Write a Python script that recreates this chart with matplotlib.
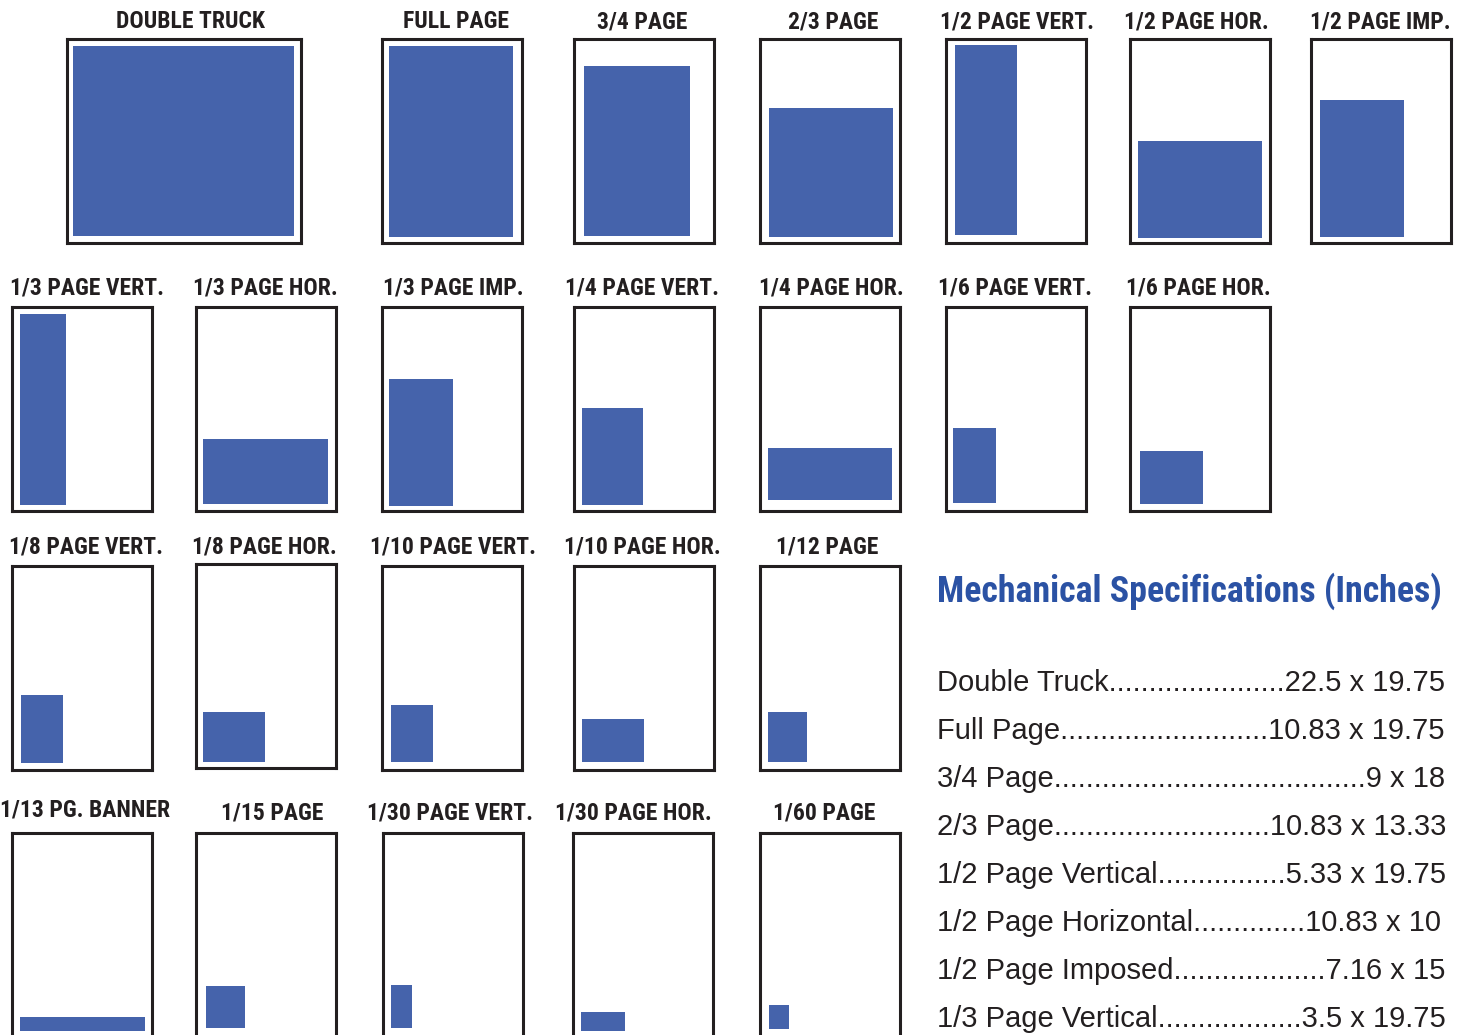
import matplotlib
matplotlib.use("Agg")
import matplotlib.pyplot as plt
from matplotlib import font_manager

labels = ["DOUBLE TRUCK", "FULL PAGE", "3/4 PAGE", "2/3 PAGE", "1/2 PAGE VERT.",
          "1/2 PAGE HOR.", "1/2 PAGE IMP.",
          "1/3 PAGE VERT.", "1/3 PAGE HOR.", "1/3 PAGE IMP.", "1/4 PAGE VERT.",
          "1/4 PAGE HOR.", "1/6 PAGE VERT.", "1/6 PAGE HOR.",
          "1/8 PAGE VERT.", "1/8 PAGE HOR.", "1/10 PAGE VERT.", "1/10 PAGE HOR.", "1/12 PAGE",
          "1/13 PG. BANNER", "1/15 PAGE", "1/30 PAGE VERT.", "1/30 PAGE HOR.", "1/60 PAGE"]
ad_left = [.026, .05, .071, .064, .064, .057, .064,
           .057, .05, .05, .057, .057, .05, .071,
           .064, .05, .064, .057, .057,
           .057, .071, .057, .057, .064]
ad_bottom = [.034, .029, .034, .029, .039, .025, .029,
             .029, .034, .025, .029, .054, .039, .034,
             .034, .029, .039, .039, .039,
             .029, .044, .044, .029, .039]
ad_w = [.944, .886, .757, .886, .443, .886, .60,
        .329, .893, .457, .436, .886, .307, .45,
        .30, .443, .30, .443, .279,
        .893, .279, .15, .314, .143]
ad_h = [.931, .936, .833, .632, .931, .475, .672,
        .936, .319, .623, .475, .255, .368, .26,
        .333, .245, .279, .211, .245,
        .069, .206, .211, .093, .118]

spec_names = ["Double Truck", "Full Page", "3/4 Page", "2/3 Page", "1/2 Page Vertical",
              "1/2 Page Horizontal", "1/2 Page Imposed", "1/3 Page Vertical"]
spec_sizes = ["22.5 x 19.75", "10.83 x 19.75", "9 x 18", "10.83 x 13.33", "5.33 x 19.75",
              "10.83 x 10", "7.16 x 15", "3.5 x 19.75"]
spec_dots = [22, 26, 39, 27, 16, 14, 19, 18]

# layout in pixels (frame left, frame top, frame width, label x, label y)
frame_x = [67, 382, 574, 760, 946, 1130, 1311,
           12, 196, 382, 574, 760, 946, 1130,
           12, 196, 382, 574, 760,
           12, 196, 383, 573, 760]
frame_y = [39] * 7 + [307] * 7 + [566, 564, 566, 566, 566] + [833] * 5
frame_w = [234] + [140] * 23
label_x = [191, 456, 642, 833, 1017, 1196, 1380,
           87, 265, 453, 642, 831, 1015, 1198,
           86, 264, 453, 642, 827,
           85, 272, 450, 633, 824]
label_y = [22] * 7 + [288] * 7 + [547] * 5 + [810, 813, 813, 813, 813]

W, H = 1458, 1035
FH = 204
blue = "#4563AB"
dark = "#231F20"


def wt(f):
    w = f.weight
    if isinstance(w, str):
        w = font_manager.weight_dict.get(w, 400)
    return w


# look for a narrow bold face, the labels use a condensed type
prefer = ["Liberation Sans Narrow", "Roboto Condensed", "Noto Sans", "Roboto",
          "Open Sans", "Lato", "Inter", "DejaVu Sans"]
cands = [f for f in font_manager.fontManager.ttflist
         if f.stretch in ("condensed", "semi-condensed", "extra-condensed")
         and 600 <= wt(f) <= 800 and f.style == "normal"]
cands.sort(key=lambda f: (prefer.index(f.name) if f.name in prefer else 99,
                          abs(wt(f) - 700)))
if cands:
    narrow = dict(fontproperties=font_manager.FontProperties(fname=cands[0].fname))
else:
    narrow = dict(family="Liberation Sans", weight="bold")

fig = plt.figure(figsize=(W / 100, H / 100), dpi=100)
rend = fig.canvas.get_renderer()

# size the label type so DOUBLE TRUCK is about as wide as in the picture
probe = fig.text(0, 0, labels[0], **narrow)
probe.set_fontsize(17)
lab_size = 0.95 * 17 * 157 / probe.get_window_extent(rend).width
probe.remove()

for i in range(len(labels)):
    ax = fig.add_axes([frame_x[i] / W, 1 - (frame_y[i] + FH) / H, frame_w[i] / W, FH / H])
    ax.bar(ad_left[i], ad_h[i], width=ad_w[i], bottom=ad_bottom[i], align="edge",
           color=blue, linewidth=0)
    ax.set_xlim(0, 1)
    ax.set_ylim(0, 1)
    ax.set_xticks([])
    ax.set_yticks([])
    for s in ax.spines.values():
        s.set_linewidth(2.2)
        s.set_color(dark)
    t = fig.text(label_x[i] / W, 1 - label_y[i] / H, labels[i], ha="center", va="center",
                 color=dark, **narrow)
    t.set_fontsize(lab_size)

title = fig.text(937 / W, 1 - 591 / H, "Mechanical Specifications (Inches)", ha="left",
                 va="center", color="#2B52A4", **narrow)
title.set_fontsize(28)
title.set_fontsize(28 * 505 / title.get_window_extent(rend).width)

for i in range(len(spec_names)):
    line = spec_names[i] + "." * spec_dots[i] + spec_sizes[i]
    fig.text(937 / W, 1 - (683 + 48 * i) / H, line, ha="left", va="center",
             fontsize=21, color=dark, family="Liberation Sans")

fig.savefig("out.png", dpi=100)
